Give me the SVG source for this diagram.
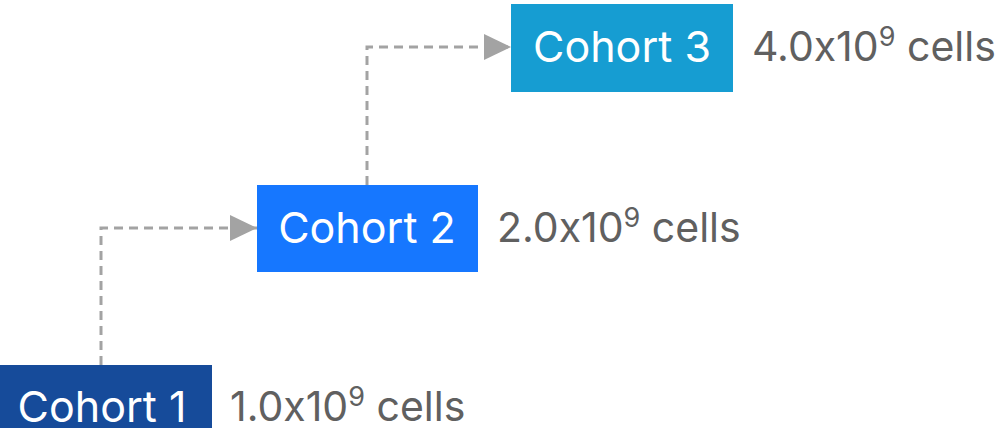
<svg xmlns="http://www.w3.org/2000/svg" width="1004" height="428" viewBox="0 0 1004 428">
<defs>
<style>
.box-label{font-family:"Inter","Noto Sans",sans-serif;font-size:43px;fill:#ffffff;text-anchor:middle}
.val{font-family:"Inter","Noto Sans",sans-serif;font-size:41px;fill:#606060}
.sup{font-size:27px}
.conn{fill:none;stroke:#a3a3a3;stroke-width:3;stroke-dasharray:9 6}
</style>
<marker id="arr" markerWidth="27" markerHeight="26" refX="27" refY="13" orient="auto" markerUnits="userSpaceOnUse">
<path d="M0,0 L27,13 L0,26 Z" fill="#a3a3a3"/>
</marker>
</defs>
<rect width="1004" height="428" fill="#ffffff"/>
<g id="connectors">
<path class="conn" d="M101,365 V228 H257" marker-end="url(#arr)"/>
<path class="conn" d="M367,185 V47 H511" marker-end="url(#arr)"/>
</g>
<g id="cohort1">
<rect x="0" y="365" width="212" height="88" fill="#164b9a"/>
<text class="box-label" x="102" y="422">Cohort 1</text>
<text class="val" x="230" y="421">1.0x10<tspan class="sup" dy="-15">9</tspan><tspan dy="15"> cells</tspan></text>
</g>
<g id="cohort2">
<rect x="257" y="185" width="221" height="87" fill="#1677ff"/>
<text class="box-label" x="367" y="243">Cohort 2</text>
<text class="val" x="497" y="242">2.0x10<tspan class="sup" dy="-15">9</tspan><tspan dy="15"> cells</tspan></text>
</g>
<g id="cohort3">
<rect x="511" y="4" width="222" height="88" fill="#169dd2"/>
<text class="box-label" x="622" y="62">Cohort 3</text>
<text class="val" x="752" y="61">4.0x10<tspan class="sup" dy="-15">9</tspan><tspan dy="15"> cells</tspan></text>
</g>
</svg>
